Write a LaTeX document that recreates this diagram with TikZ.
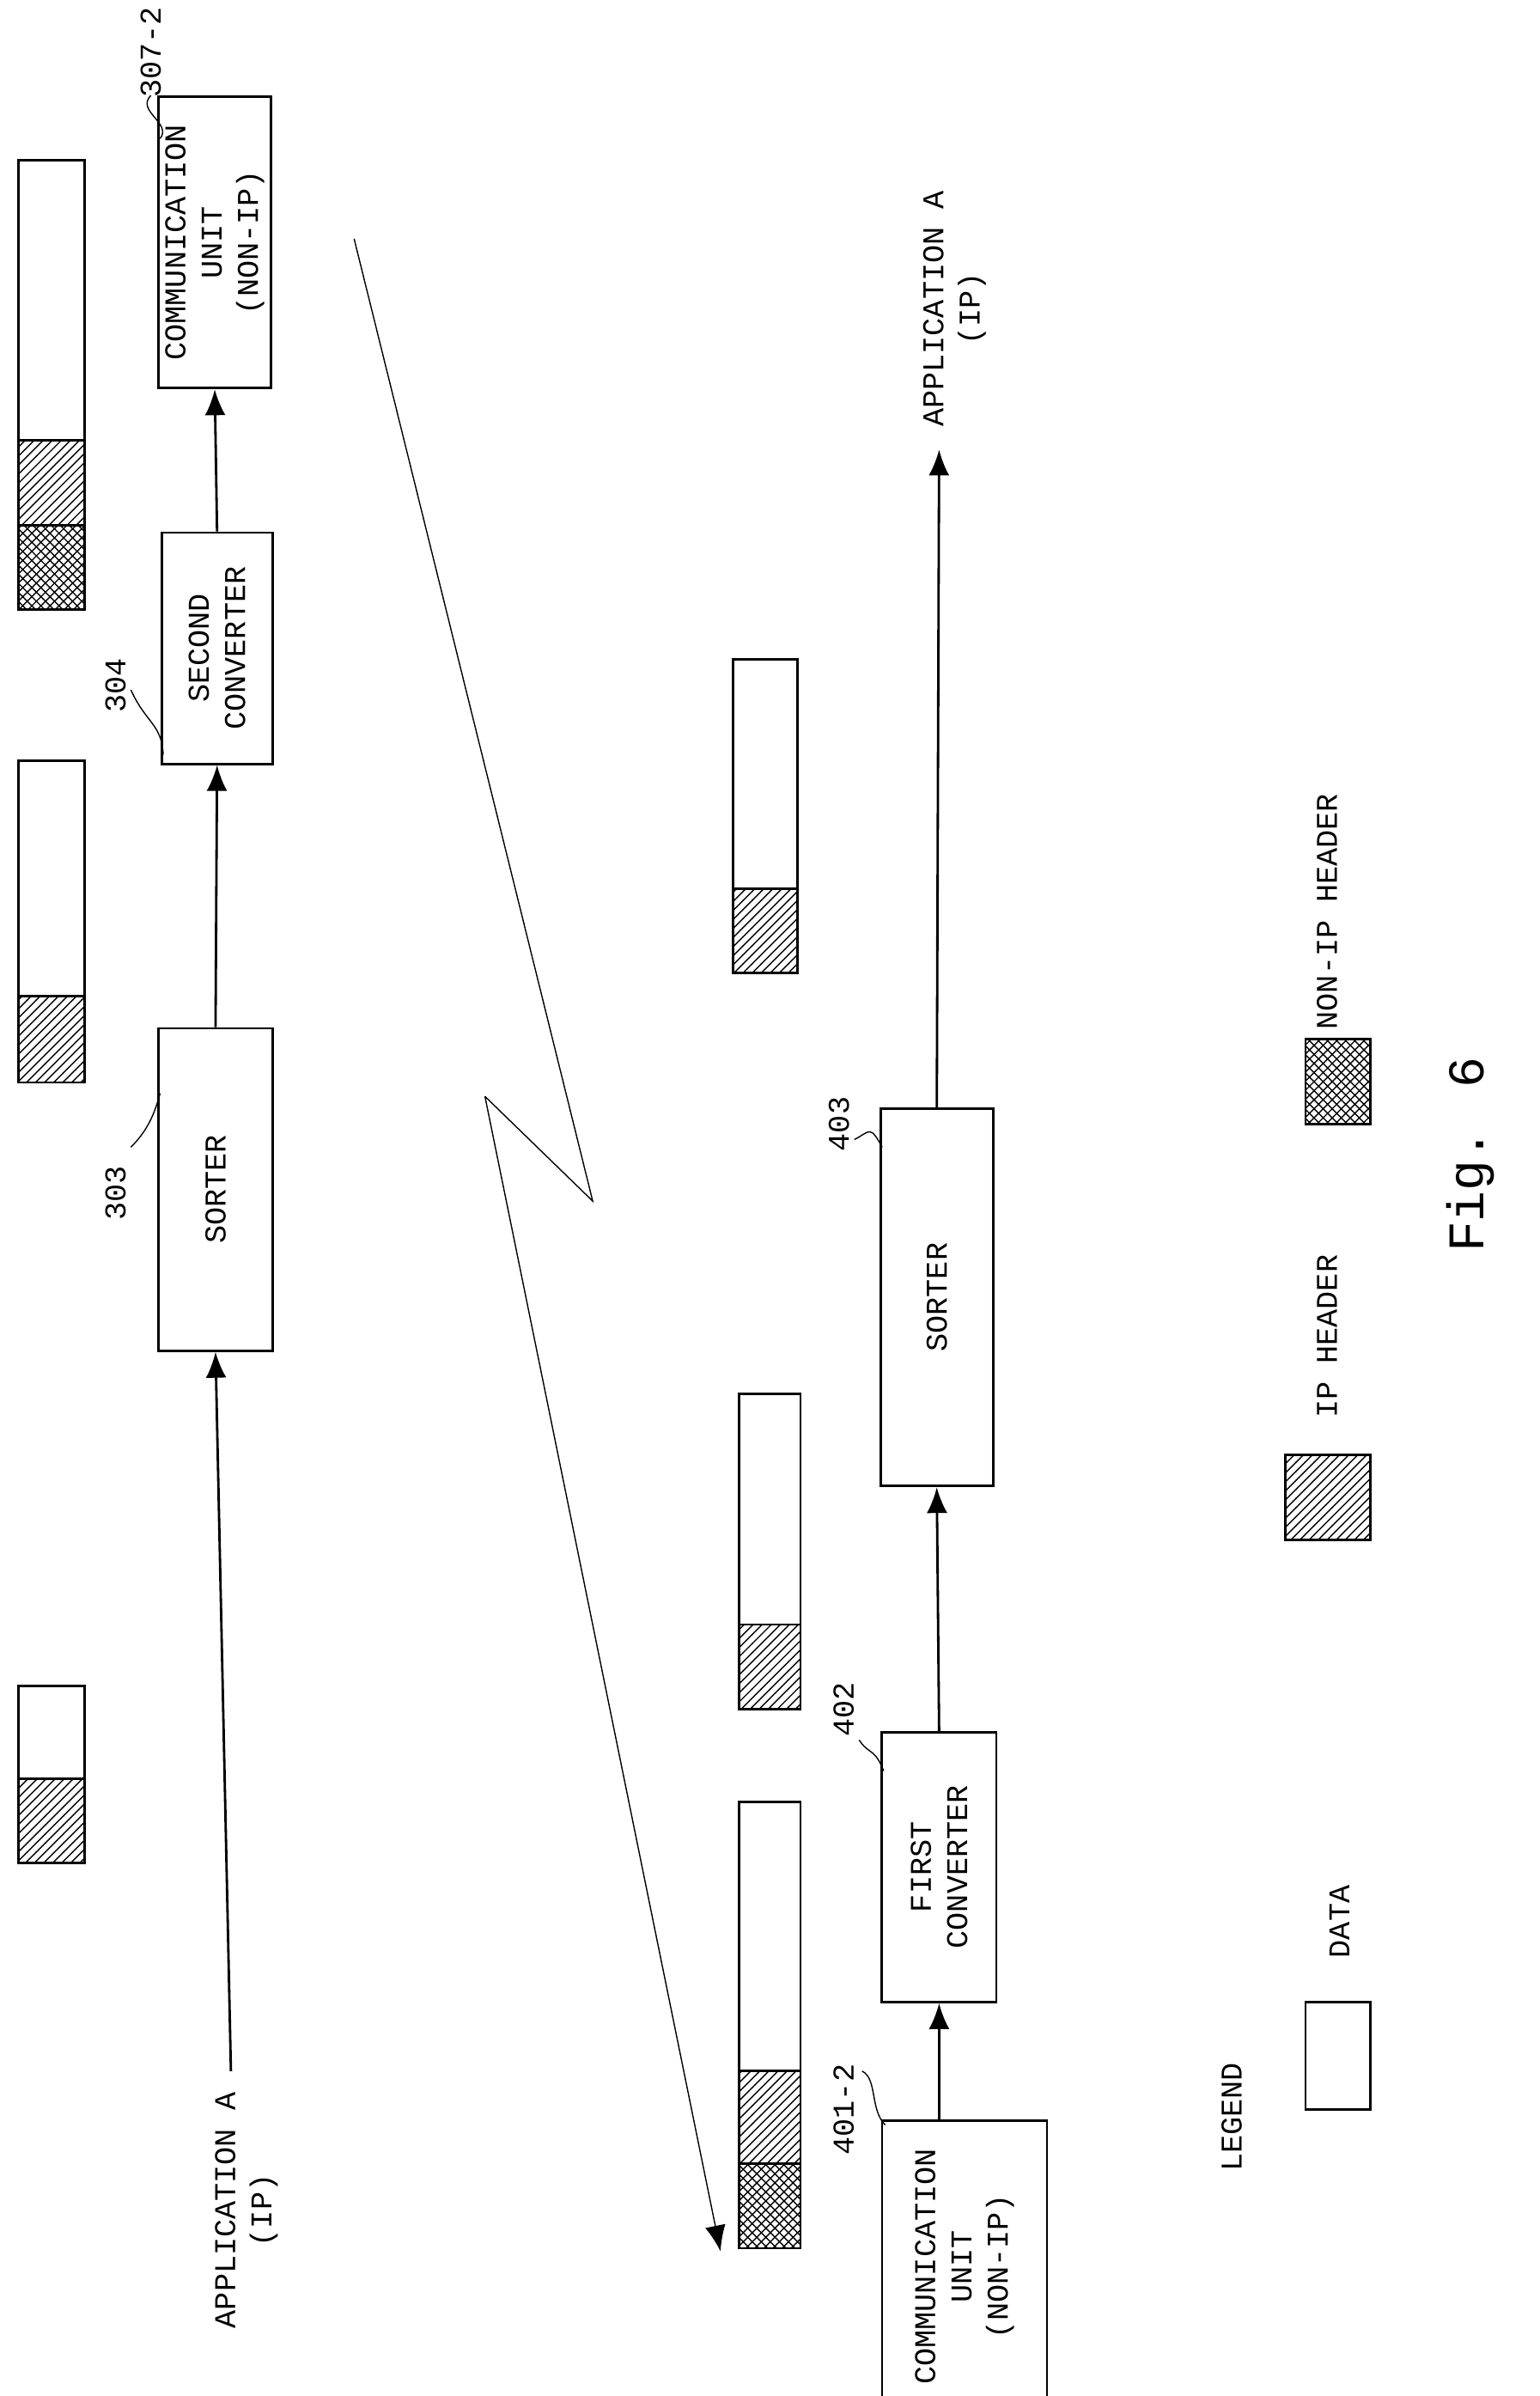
\documentclass[tikz,border=0pt]{standalone}
\usepackage{fontspec}
\setmainfont{Liberation Mono}
\usetikzlibrary{arrows.meta,patterns,positioning}

\begin{document}
\begin{tikzpicture}[x=0.01792cm,y=-0.01792cm,
        block/.style={rectangle, draw, thick, rotate=90, align=center,
                      font=\fontsize{10}{12}\selectfont, inner sep=1pt},
        line/.style={draw, thick, -{Latex[length=3mm,width=2.4mm]}},
        lbl/.style={rotate=90, font=\fontsize{10}{12}\selectfont, align=center},
        lead/.style={draw, thin},
        iph/.style={draw, thick, pattern=north east lines},
        nonip/.style={draw, thick, pattern=crosshatch},
        dat/.style={draw, thick, fill=white}
    ]
    \useasboundingbox (0,0) rectangle (1000,1556);

    % sending side
    \node [block, minimum width=3.39cm, minimum height=1.31cm] (cu307) at (139.5,157.5) {COMMUNICATION\\UNIT\\(NON-IP)};
    \node [block, minimum width=2.69cm, minimum height=1.29cm] (conv304) at (141,421) {SECOND\\CONVERTER};
    \node [block, minimum width=3.75cm, minimum height=1.33cm] (sort303) at (140,772.5) {SORTER};
    \node [lbl, anchor=east] (appA1) at (160,1352) {APPLICATION A\\(IP)};
    \coordinate (appA1in) at (150,1345);

    \draw [line] (appA1in) -- (sort303.west);
    \draw [line] (sort303.east) -- (conv304.west);
    \draw [line] (conv304.east) -- (cu307.west);

    % receiving side
    \node [block, minimum width=3.4cm, minimum height=1.92cm] (cu401) at (626.5,1472) {COMMUNICATION\\UNIT\\(NON-IP)};
    \node [block, minimum width=3.14cm, minimum height=1.33cm] (conv402) at (610,1212.5) {FIRST\\CONVERTER};
    \node [block, minimum width=4.39cm, minimum height=1.31cm] (sort403) at (608.5,842.5) {SORTER};
    \node [lbl, anchor=west] (appA2) at (620,284) {APPLICATION A\\(IP)};
    \coordinate (appA2out) at (610,292);

    \draw [line] (cu401.east -| conv402) -- (conv402.west);
    \draw [line] (conv402.east) -- (sort403.west);
    \draw [line] (sort403.east) -- (appA2out);

    % reference numerals
    \node [lbl] (n307) at (98,34) {307-2};
    \draw [lead] (98,62) .. controls (88,72) and (112,80) .. (104,90);
    \node [lbl] (n304) at (75,445) {304};
    \draw [lead] (85,448) .. controls (95,470) and (105,470) .. (106,490);
    \node [lbl] (n303) at (75,775) {303};
    \draw [lead] (85,745) .. controls (95,735) and (100,725) .. (104,710);
    \node [lbl] (n401) at (548,1370) {401-2};
    \draw [lead] (560,1345) .. controls (570,1350) and (565,1370) .. (575,1380);
    \node [lbl] (n402) at (548,1110) {402};
    \draw [lead] (558,1130) .. controls (565,1140) and (568,1135) .. (574,1150);
    \node [lbl] (n403) at (545,730) {403};
    \draw [lead] (555,740) .. controls (565,735) and (565,730) .. (573,745);

    % radio link
    \coordinate (zz0) at (230,155);
    \coordinate (zz1) at (385,780);
    \coordinate (zz2) at (315,712);
    \coordinate (zz3) at (468,1462);
    \draw [thin] (zz0) -- (zz1) -- (zz2);
    \draw [thin, -{Latex[length=3mm,width=2.4mm]}] (zz2) -- (zz3);

    % packets, sending side
    \draw [dat] (12,1095) rectangle (55,1155);
    \draw [iph] (12,1155) rectangle (55,1210);
    \draw [dat] (12,494) rectangle (55,647);
    \draw [iph] (12,647) rectangle (55,703);
    \draw [dat] (12,104) rectangle (55,286);
    \draw [iph] (12,286) rectangle (55,341);
    \draw [nonip] (12,341) rectangle (55,396);

    % packets, receiving side
    \draw [dat] (480,1170) rectangle (520,1345);
    \draw [iph] (480,1345) rectangle (520,1405);
    \draw [nonip] (480,1405) rectangle (520,1460);
    \draw [dat] (480,905) rectangle (520,1055);
    \draw [iph] (480,1055) rectangle (520,1110);
    \draw [dat] (476,428) rectangle (518,577);
    \draw [iph] (476,577) rectangle (518,632);

    % legend
    \node [lbl] (legend) at (800,1375) {LEGEND};
    \draw [dat] (848,1300) rectangle (890,1370);
    \node [lbl] (ldata) at (870,1248) {DATA};
    \draw [iph] (835,945) rectangle (890,1000);
    \node [lbl] (lip) at (862,868) {IP HEADER};
    \draw [nonip] (848,675) rectangle (890,730);
    \node [lbl] (lnonip) at (862,592) {NON-IP HEADER};

    \node [rotate=90, font=\fontsize{17}{20}\selectfont] (fig) at (955,750) {Fig. 6};
\end{tikzpicture}
\end{document}
